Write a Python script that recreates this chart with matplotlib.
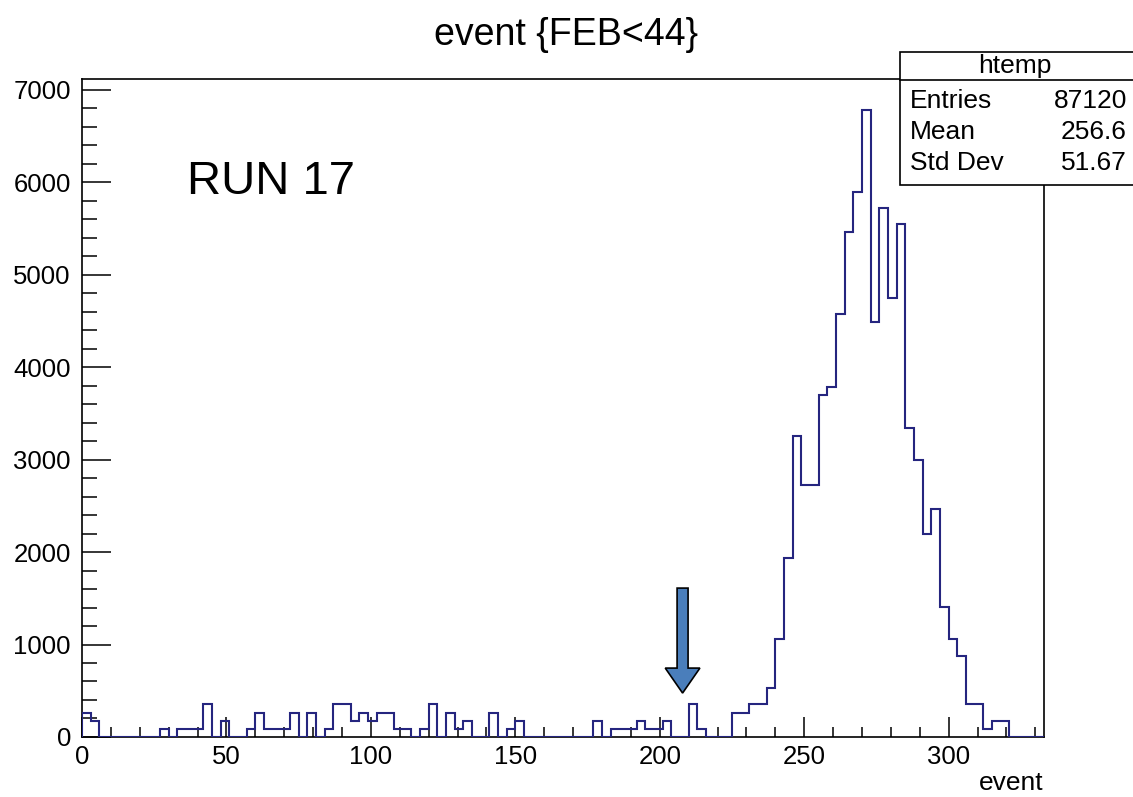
import numpy as np
import matplotlib.pyplot as plt
from matplotlib.patches import FancyArrow, Rectangle
from matplotlib.lines import Line2D
from matplotlib.ticker import MultipleLocator

# entries per bin, bins of width 3 from 0 to 333
counts = [264, 176, 0, 0, 0, 0, 0, 0, 0, 88,
          0, 88, 88, 88, 352, 0, 176, 0, 0, 88,
          264, 88, 88, 88, 264, 0, 264, 0, 88, 352,
          352, 176, 264, 176, 264, 264, 88, 88, 0, 88,
          352, 0, 264, 88, 176, 0, 0, 264, 0, 88,
          176, 0, 0, 0, 0, 0, 0, 0, 0, 176,
          0, 88, 88, 88, 176, 88, 88, 176, 0, 0,
          352, 88, 0, 0, 0, 264, 264, 352, 352, 528,
          1056, 1936, 3256, 2728, 2728, 3696, 3784, 4576, 5456, 5896,
          6776, 4488, 5720, 4752, 5544, 3344, 2992, 2200, 2464, 1408,
          1056, 880, 352, 352, 88, 176, 176, 0, 0, 0,
          0]
x_min, x_max = 0, 333
title = 'event {FEB<44}'
x_label = 'event'
run_label = 'RUN 17'
hist_name = 'htemp'
stats_labels = ['Entries', 'Mean', 'Std Dev']
stats_values = ['87120', '256.6', '51.67']
arrow_x = 207.9
arrow_top, arrow_tip = 1610, 475

plt.rcParams['font.family'] = ['Liberation Sans', 'DejaVu Sans']

fig = plt.figure(figsize=(11.33, 7.97), dpi=100)
ax = fig.add_axes([0.0724, 0.0753, 0.8490, 0.8256])

edges = np.linspace(x_min, x_max, len(counts) + 1)
ax.stairs(counts, edges, color='#25257f', linewidth=1.5, zorder=3)

ax.set_xlim(x_min, x_max)
ax.set_ylim(0, max(counts) * 1.05)
ax.xaxis.set_major_locator(MultipleLocator(50))
ax.xaxis.set_minor_locator(MultipleLocator(10))
ax.yaxis.set_major_locator(MultipleLocator(1000))
ax.yaxis.set_minor_locator(MultipleLocator(200))
ax.tick_params(which='both', direction='in', top=False, right=False,
               labelsize=18.5, width=1.1, colors='black')
ax.tick_params(axis='x', which='major', length=14.4, pad=6)
ax.tick_params(axis='x', which='minor', length=7.2)
ax.tick_params(axis='y', which='major', length=21, pad=8)
ax.tick_params(axis='y', which='minor', length=10.5)
for s in ax.spines.values():
    s.set_linewidth(1.2)

arrow = FancyArrow(arrow_x, arrow_top, 0, arrow_tip - arrow_top, width=3.8,
                   head_width=12, head_length=270, length_includes_head=True,
                   facecolor='#4a7ebb', edgecolor='black', linewidth=1.2, zorder=4)
ax.add_patch(arrow)

fig.text(0.4996, 0.956, title, fontsize=27, ha='center', va='center')
fig.text(1044 / 1133, 1 - 783 / 797, x_label, fontsize=19, ha='right', va='center')
fig.text(187 / 1133, 1 - 182 / 797, run_label, fontsize=34, ha='left', va='center')

# stats box
bx0, bx1 = 900 / 1133, 1.01
by0, by1, bsep = 1 - 185 / 797, 1 - 52 / 797, 1 - 80 / 797
fig.add_artist(Rectangle((bx0, by0), bx1 - bx0, by1 - by0, transform=fig.transFigure,
                         facecolor='white', edgecolor='black', linewidth=1.2, zorder=5))
fig.add_artist(Line2D([bx0, bx1], [bsep, bsep], transform=fig.transFigure,
                      color='black', linewidth=1.2, zorder=6))
fig.text(1015 / 1133, 1 - 66 / 797, hist_name, fontsize=19, ha='center', va='center', zorder=7)
for i, (lab, val) in enumerate(zip(stats_labels, stats_values)):
    y = 1 - (101 + 31 * i) / 797
    fig.text(910 / 1133, y, lab, fontsize=19, ha='left', va='center', zorder=7)
    fig.text(1127 / 1133, y, val, fontsize=19, ha='right', va='center', zorder=7)

plt.savefig('out.png', dpi=100)
